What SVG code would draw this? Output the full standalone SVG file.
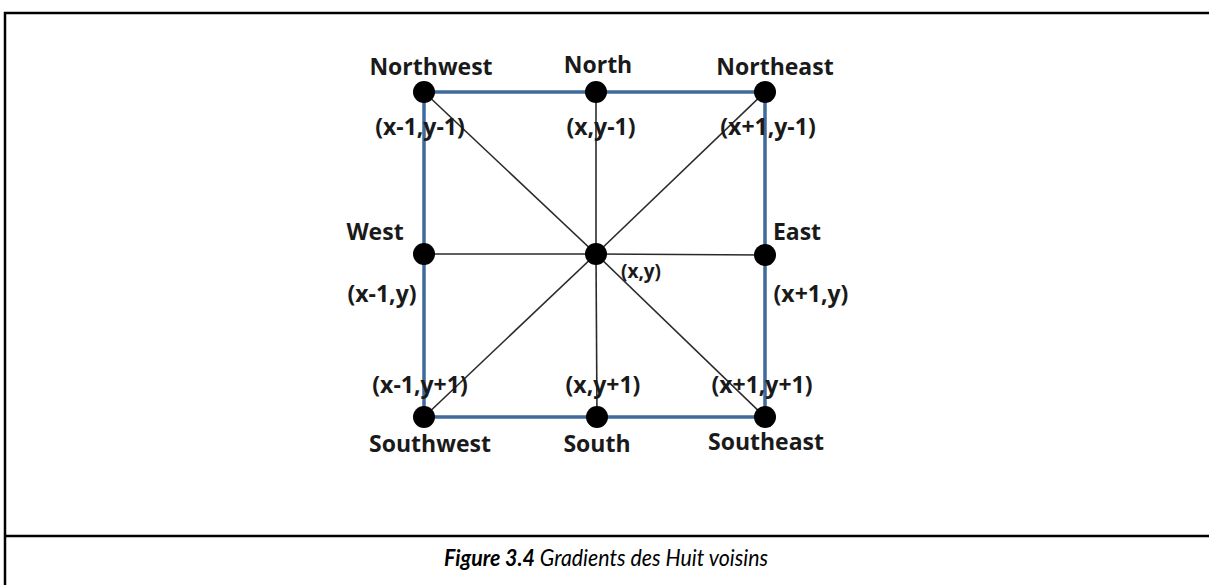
<svg xmlns="http://www.w3.org/2000/svg" width="1209" height="585" viewBox="0 0 1209 585">
<style>
.frame{fill:none;stroke:#000;stroke-width:2.5}
.blue{stroke:#3f6a9b;stroke-width:3.5;fill:none}
.thin{stroke:#2a2a2a;stroke-width:1.6;fill:none}
.dot{fill:#000}
.lbl{font-family:"Open Sans","DejaVu Sans",sans-serif;font-weight:bold;font-size:23px;fill:#1a1a1a;text-anchor:middle}
.small{font-size:19px}
.cap{font-family:"Lato","Liberation Sans",sans-serif;font-style:italic;font-size:23px;fill:#000}
</style>
<rect width="1209" height="585" fill="#fff"/>
<g id="frame">
<polyline class="frame" points="1209,13 5,13 5,585"/>
<line class="frame" x1="5" y1="536" x2="1209" y2="536"/>
</g>
<g id="connectors">
<line class="thin" x1="596" y1="254" x2="424" y2="92"/>
<line class="thin" x1="596" y1="254" x2="596" y2="92"/>
<line class="thin" x1="596" y1="254" x2="765" y2="92"/>
<line class="thin" x1="596" y1="254" x2="424" y2="254"/>
<line class="thin" x1="596" y1="254" x2="765" y2="255"/>
<line class="thin" x1="596" y1="254" x2="424" y2="417"/>
<line class="thin" x1="596" y1="254" x2="597" y2="417"/>
<line class="thin" x1="596" y1="254" x2="765" y2="417"/>
<polygon class="blue" points="424,92 765,92 765,417 424,417"/>
</g>
<g id="northwest"><circle class="dot" cx="424" cy="92" r="11"/><text class="lbl" x="431" y="75">Northwest</text><text class="lbl" x="420" y="135">(x-1,y-1)</text></g>
<g id="north"><circle class="dot" cx="596" cy="92" r="11"/><text class="lbl" x="598" y="73">North</text><text class="lbl" x="601" y="135">(x,y-1)</text></g>
<g id="northeast"><circle class="dot" cx="765" cy="92" r="11"/><text class="lbl" x="775" y="75">Northeast</text><text class="lbl" x="768" y="135">(x+1,y-1)</text></g>
<g id="west"><circle class="dot" cx="424" cy="254" r="11"/><text class="lbl" x="375" y="240">West</text><text class="lbl" x="382" y="302">(x-1,y)</text></g>
<g id="center"><circle class="dot" cx="596" cy="254" r="11"/><text class="lbl small" x="641" y="278">(x,y)</text></g>
<g id="east"><circle class="dot" cx="765" cy="255" r="11"/><text class="lbl" x="797" y="240">East</text><text class="lbl" x="811" y="302">(x+1,y)</text></g>
<g id="southwest"><circle class="dot" cx="424" cy="417" r="11"/><text class="lbl" x="420" y="393">(x-1,y+1)</text><text class="lbl" x="430" y="452">Southwest</text></g>
<g id="south"><circle class="dot" cx="597" cy="417" r="11"/><text class="lbl" x="603" y="393">(x,y+1)</text><text class="lbl" x="597" y="452">South</text></g>
<g id="southeast"><circle class="dot" cx="765" cy="417" r="11"/><text class="lbl" x="762" y="393">(x+1,y+1)</text><text class="lbl" x="766" y="450">Southeast</text></g>
<g id="caption"><text class="cap" x="444" y="566" textLength="324" lengthAdjust="spacingAndGlyphs"><tspan font-weight="bold">Figure 3.4</tspan> Gradients des Huit voisins</text></g>
</svg>
